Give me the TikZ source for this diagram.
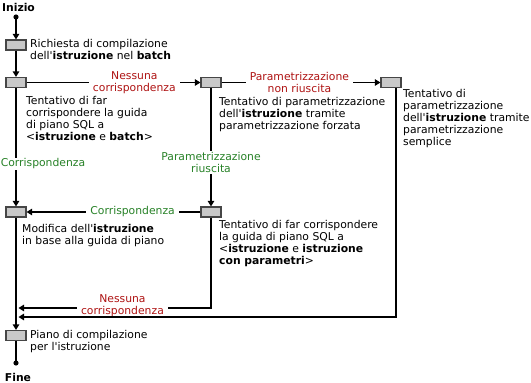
\documentclass[tikz,border=0pt]{standalone}
\usepackage{fontspec}
\setmainfont{DejaVu Sans}
\usetikzlibrary{arrows.meta}
\definecolor{boxfill}{RGB}{200,200,200}
\definecolor{boxline}{RGB}{70,70,70}
\definecolor{labred}{RGB}{175,20,20}
\definecolor{labgreen}{RGB}{40,130,40}
\newcommand{\apo}{\textquotesingle}
\begin{document}
\begin{tikzpicture}[x=1pt,y=-1pt,
  every node/.style={font=\fontsize{10.8}{12}\selectfont, inner sep=0pt},
  stepbox/.style={draw=boxline, fill=boxfill, line width=1.2pt, minimum width=20pt, minimum height=10pt, inner sep=0pt},
  conn/.style={line width=1.2pt, draw=black},
  arr/.style={conn, -{Triangle[length=5.5pt,width=6.5pt]}},
  desc/.style={anchor=north west, align=left},
  labr/.style={text=labred, fill=white, align=center, inner xsep=4pt, inner ysep=1pt},
  labg/.style={text=labgreen, fill=white, align=center, inner xsep=4pt, inner ysep=1pt},
  term/.style={font=\fontsize{10.8}{12}\selectfont\bfseries}
]
\useasboundingbox (0,0) rectangle (531,383);

% terminals
\node[term] (start) at (18.5,7) {Inizio};
\node[term] (fine) at (18,377) {Fine};
\coordinate (sdot) at (16,17);
\coordinate (edot) at (16,363);
\fill (sdot) circle (2.6pt);
\fill (edot) circle (2.6pt);

% boxes
\node[stepbox] (b1) at (16,45) {};
\node[stepbox] (b2) at (16,82.5) {};
\node[stepbox] (b3) at (211,82.5) {};
\node[stepbox] (b4) at (391,82.5) {};
\node[stepbox] (b5) at (16,212) {};
\node[stepbox] (b6) at (211,212) {};
\node[stepbox] (b7) at (16,335.5) {};

% descriptions
\node[desc] (t1) at (30,39) {Richiesta di compilazione\\dell\apo\textbf{istruzione} nel \textbf{batch}};
\node[desc] (t2) at (26,96.5) {Tentativo di far\\corrispondere la guida\\di piano SQL a\\<\textbf{istruzione} e \textbf{batch}>};
\node[desc] (t3) at (219,97) {Tentativo di parametrizzazione\\dell\apo\textbf{istruzione} tramite\\parametrizzazione forzata};
\node[desc] (t4) at (403,89) {Tentativo di\\parametrizzazione\\dell\apo\textbf{istruzione} tramite\\parametrizzazione\\semplice};
\node[desc] (t5) at (22,224) {Modifica dell\apo\textbf{istruzione}\\in base alla guida di piano};
\node[desc] (t6) at (219,220) {Tentativo di far corrispondere\\la guida di piano SQL a\\<\textbf{istruzione} e \textbf{istruzione}\\\textbf{con parametri}>};
\node[desc] (t7) at (30,330) {Piano di compilazione\\per l\apo istruzione};

% helper coordinates
\coordinate (r4) at (396,88);
\coordinate (m1) at (18.5,308);
\coordinate (m2) at (18.5,317);

% connectors
\draw[arr] (sdot) -- (b1.north);
\draw[arr] (b1.south) -- (b2.north);
\draw[arr] (b2.east) -- node[labr, pos=0.62] {Nessuna\\corrispondenza} (b3.west);
\draw[arr] (b3.east) -- node[labr, pos=0.49] {Parametrizzazione\\non riuscita} (b4.west);
\draw[arr] (b2.south) -- node[labg, pos=0.64, xshift=27pt] {Corrispondenza} (b5.north);
\draw[arr] (b3.south) -- node[labg, pos=0.63] {Parametrizzazione\\riuscita} (b6.north);
\draw[arr] (b6.west) -- node[labg, pos=0.39] {Corrispondenza} (b5.east);
\draw[arr] (b6.south) |- node[labr, pos=0.73, yshift=2.5pt] {Nessuna\\corrispondenza} (m1);
\draw[arr] (r4) |- (m2);
\draw[arr] (b5.south) -- (b7.north);
\draw[conn] (b7.south) -- (edot);
\end{tikzpicture}
\end{document}
